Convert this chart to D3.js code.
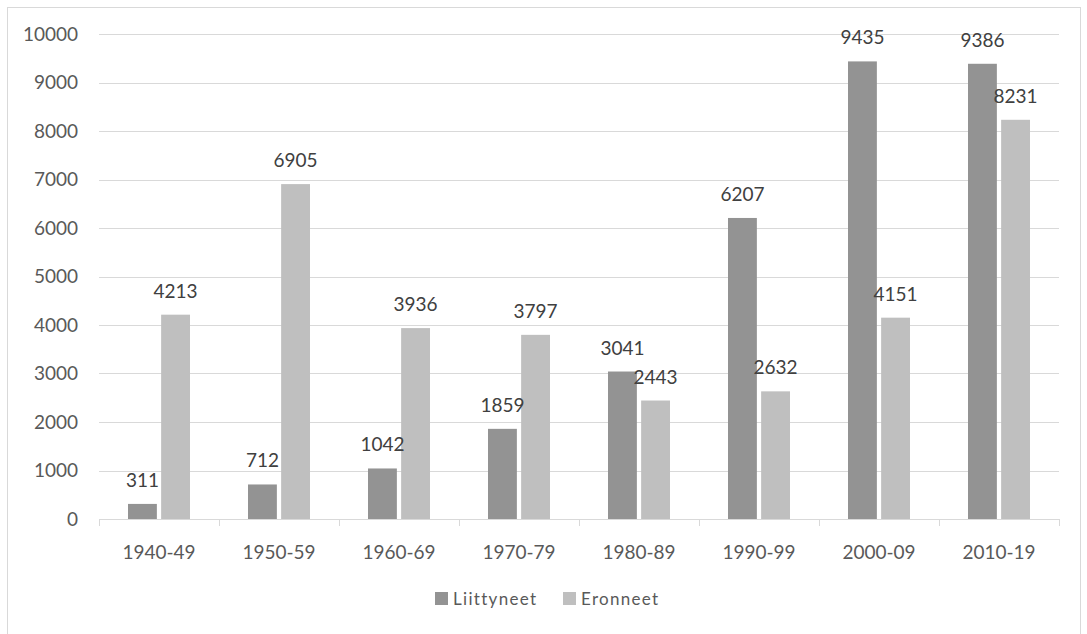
<!DOCTYPE html>
<html lang="fi">
<head>
  <meta charset="UTF-8">
  <title>Liittyneet ja eronneet</title>
  <script src="https://d3js.org/d3.v7.min.js"></script>
  <style>
    body { margin: 0; background: #ffffff; font-family: Lato, 'Open Sans', sans-serif; }
    svg { display: block; }
    .tick-label { fill: #595959; font-size: 19px; }
    .value-label { fill: #404040; font-size: 19px; }
    .legend-label { fill: #595959; font-size: 17px; letter-spacing: 1.3px; }
  </style>
</head>
<body>
  <svg width="1087" height="634"></svg>

  <script>
    const decades = ["1940-49", "1950-59", "1960-69", "1970-79", "1980-89", "1990-99", "2000-09", "2010-19"];
    const liittyneet = [311, 712, 1042, 1859, 3041, 6207, 9435, 9386];
    const eronneet = [4213, 6905, 3936, 3797, 2443, 2632, 4151, 8231];
    const seriesNames = ["Liittyneet", "Eronneet"];
    const seriesColors = ["#939393", "#bfbfbf"];
    const yTicks = [0, 1000, 2000, 3000, 4000, 5000, 6000, 7000, 8000, 9000, 10000];

    const svg = d3.select("svg");

    // chart frame
    svg.append("rect")
      .attr("x", 7.5).attr("y", 7.5)
      .attr("width", 1073).attr("height", 640)
      .attr("fill", "none")
      .attr("stroke", "#d9d9d9");

    const plotLeft = 99, plotRight = 1059, plotTop = 34, plotBottom = 519;

    const x = d3.scaleBand().domain(decades).range([plotLeft, plotRight]);
    const y = d3.scaleLinear().domain([0, 10000]).range([plotBottom, plotTop]);

    const groups = decades.map((d, i) => ({ decade: d, values: [liittyneet[i], eronneet[i]] }));
    const inner = d3.scaleBand().domain([0, 1]).range([29, x.bandwidth() - 29]).paddingInner(8 / 62);

    // gridlines
    svg.append("g").selectAll("line")
      .data(yTicks.slice(1))
      .enter().append("line")
      .attr("x1", plotLeft).attr("x2", plotRight)
      .attr("y1", d => Math.round(y(d)) + 0.5).attr("y2", d => Math.round(y(d)) + 0.5)
      .attr("stroke", "#d9d9d9").attr("stroke-width", 1);

    // y labels
    svg.append("g").selectAll("text")
      .data(yTicks)
      .enter().append("text")
      .attr("class", "tick-label")
      .attr("x", 78)
      .attr("y", d => y(d))
      .attr("dy", "0.35em")
      .attr("text-anchor", "end")
      .text(d => d);

    // bars
    const g = svg.append("g").selectAll("g")
      .data(groups)
      .enter().append("g")
      .attr("transform", d => `translate(${x(d.decade)},0)`);

    g.selectAll("rect")
      .data(d => d.values)
      .enter().append("rect")
      .attr("x", (v, i) => inner(i))
      .attr("width", inner.bandwidth())
      .attr("y", v => y(v))
      .attr("height", v => y(0) - y(v))
      .attr("fill", (v, i) => seriesColors[i]);

    g.selectAll("text")
      .data(d => d.values)
      .enter().append("text")
      .attr("class", "value-label")
      .attr("x", (v, i) => inner(i) + inner.bandwidth() / 2)
      .attr("y", v => y(v) - 17)
      .attr("text-anchor", "middle")
      .text(v => v);

    // x axis line and ticks
    const axis = svg.append("g").attr("stroke", "#d9d9d9");
    axis.append("line")
      .attr("x1", plotLeft).attr("x2", plotRight)
      .attr("y1", plotBottom + 0.5).attr("y2", plotBottom + 0.5);
    axis.selectAll("line.tick")
      .data(decades.concat([null]))
      .enter().append("line")
      .attr("class", "tick")
      .attr("x1", d => Math.round(d ? x(d) : plotRight) + 0.5)
      .attr("x2", d => Math.round(d ? x(d) : plotRight) + 0.5)
      .attr("y1", plotBottom).attr("y2", plotBottom + 7);

    svg.append("g").selectAll("text")
      .data(decades)
      .enter().append("text")
      .attr("class", "tick-label")
      .attr("x", d => x(d) + x.bandwidth() / 2)
      .attr("y", 552)
      .attr("dy", "0.35em")
      .attr("text-anchor", "middle")
      .text(d => d);

    // legend
    const legendX = [435, 563];
    const legend = svg.append("g").selectAll("g")
      .data(seriesNames)
      .enter().append("g")
      .attr("transform", (d, i) => `translate(${legendX[i]},592)`);
    legend.append("rect")
      .attr("width", 13).attr("height", 13)
      .attr("fill", (d, i) => seriesColors[i]);
    legend.append("text")
      .attr("class", "legend-label")
      .attr("x", 18).attr("y", 7)
      .attr("dy", "0.35em")
      .text(d => d);
  </script>
</body>
</html>
